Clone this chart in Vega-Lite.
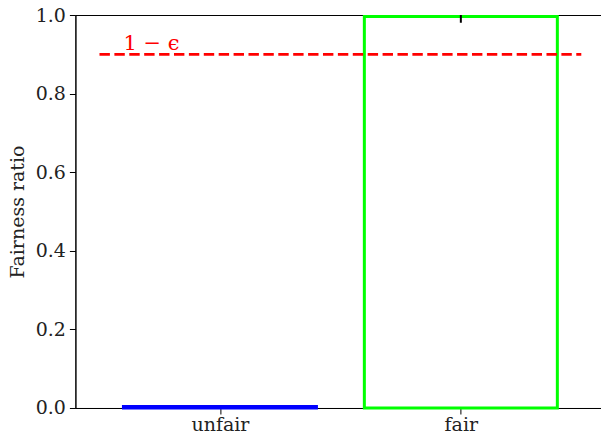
{
  "$schema": "https://vega.github.io/schema/vega-lite/v6.json",
  "autosize": {"type": "none"},
  "width": 530,
  "height": 393,
  "padding": {"left": 75.4, "top": 15, "right": 0, "bottom": 33},
  "background": "white",
  "config": {
    "view": {"stroke": "black", "strokeWidth": 1},
    "font": "DejaVu Serif",
    "axis": {"labelFont": "DejaVu Serif", "titleFont": "DejaVu Serif"}
  },
  "datasets": {
    "bars": [
      {"group": "unfair", "pos": 0, "ratio": 0.004, "lo": 0.004, "hi": 0.004},
      {"group": "fair", "pos": 1, "ratio": 0.996, "lo": 0.98, "hi": 1.0}
    ],
    "thresh": [
      {"level": 0.9, "from": -0.5, "to": 1.5, "label": "1 − ϵ"}
    ]
  },
  "layer": [
    {
      "data": {"name": "bars"},
      "mark": {"type": "bar", "width": 193, "fill": "transparent", "strokeWidth": 3},
      "encoding": {
        "x": {
          "field": "pos", "type": "quantitative",
          "scale": {"domain": [-0.6, 1.6], "nice": false, "zero": false, "padding": 0},
          "axis": {
            "title": null, "values": [0, 1], "grid": false,
            "labelExpr": "datum.value == 0 ? 'unfair' : 'fair'",
            "labelFontSize": 19, "labelColor": "#222", "labelPadding": 2,
            "tickSize": 6, "tickColor": "black", "domainColor": "black"
          }
        },
        "y": {
          "field": "ratio", "type": "quantitative",
          "scale": {"domain": [0, 1], "nice": false, "padding": 0},
          "axis": {
            "title": "Fairness ratio", "titleFontSize": 19, "titleFontWeight": "normal",
            "titleColor": "#222", "titlePadding": 8,
            "values": [0, 0.2, 0.4, 0.6, 0.8, 1.0], "format": ".1f", "grid": false,
            "labelFontSize": 19, "labelColor": "#222",
            "tickSize": 6, "tickColor": "black", "domainColor": "black", "labelPadding": 4
          }
        },
        "y2": {"datum": 0},
        "stroke": {
          "field": "group", "type": "nominal",
          "scale": {"domain": ["unfair", "fair"], "range": ["#0000ff", "#00ff00"]},
          "legend": null
        }
      }
    },
    {
      "data": {"name": "bars"},
      "mark": {"type": "rule", "color": "black", "strokeWidth": 2, "clip": true},
      "encoding": {
        "x": {"field": "pos", "type": "quantitative"},
        "y": {"field": "lo", "type": "quantitative"},
        "y2": {"field": "hi"}
      }
    },
    {
      "data": {"name": "thresh"},
      "mark": {"type": "rule", "color": "#ff0000", "strokeWidth": 2.8, "strokeDash": [10.4, 4.5]},
      "encoding": {
        "x": {"field": "from", "type": "quantitative"},
        "x2": {"field": "to"},
        "y": {"field": "level", "type": "quantitative"}
      }
    },
    {
      "data": {"name": "thresh"},
      "mark": {"type": "text", "color": "#ff0000", "fontSize": 21, "align": "left", "baseline": "alphabetic", "dy": -4},
      "encoding": {
        "x": {"datum": -0.4, "type": "quantitative"},
        "y": {"field": "level", "type": "quantitative"},
        "text": {"field": "label"}
      }
    }
  ]
}
